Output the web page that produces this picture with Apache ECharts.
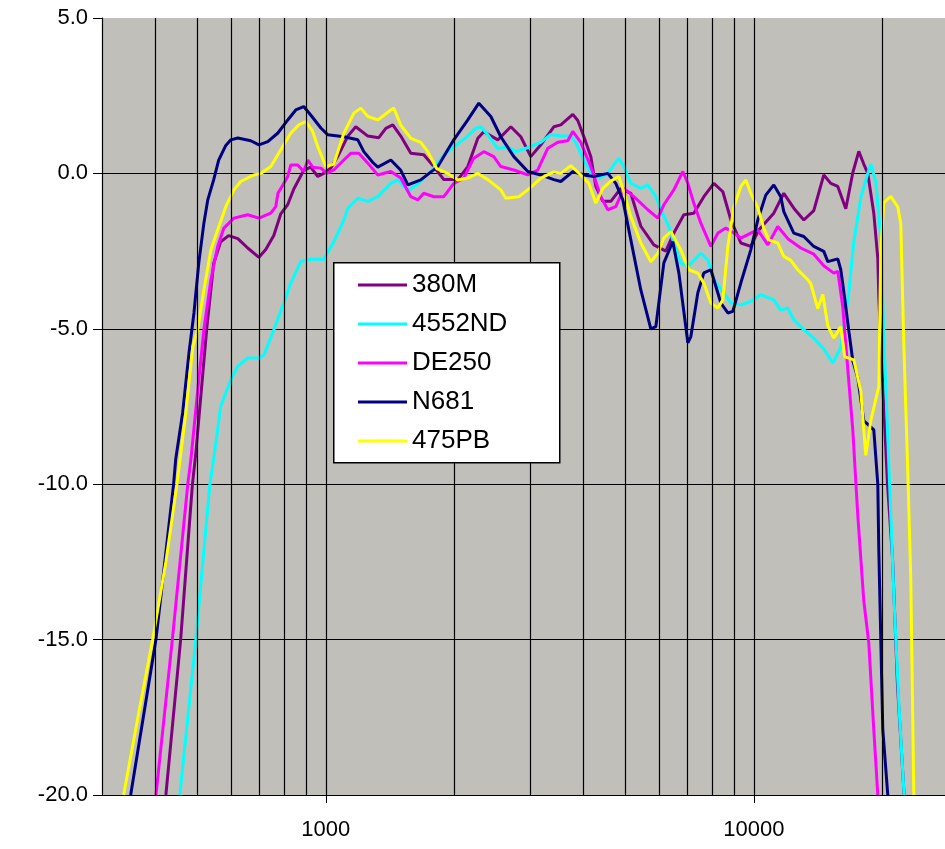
<!DOCTYPE html>
<html><head><meta charset="utf-8">
<script src="https://cdn.jsdelivr.net/npm/echarts@6/dist/echarts.min.js"></script>
<style>html,body{margin:0;padding:0;background:#fff}#c{width:945px;height:849px}</style>
</head><body><div id="c"></div>
<script>
// Frequency response curves: [frequency Hz, level dB]
const seriesNames = ['380M', '4552ND', 'DE250', 'N681', '475PB'];
const seriesColors = ['#800080', '#00FFFF', '#FF00FF', '#000080', '#FFFF00'];

const data380M = [[423,-20],[458,-15],[488,-10],[497,-9.0],[527,-5],[547,-2.9],[568,-2.2],[593,-2.0],[623,-2.1],[657,-2.4],[698,-2.7],[724,-2.45],[756,-2.0],[785,-1.3],[815,-1.0],[842,-0.5],[888,0.1],[922,0.2],[958,-0.1],[989,0],[1027,0.17],[1067,0.55],[1126,1.2],[1175,1.5],[1254,1.2],[1330,1.15],[1381,1.45],[1434,1.56],[1497,1.2],[1580,0.65],[1694,0.6],[1788,0.22],[1887,-0.2],[2035,-0.2],[2147,0.22],[2266,1.13],[2340,1.34],[2523,1.08],[2706,1.5],[2855,1.18],[3013,0.54],[3180,0.92],[3410,1.5],[3541,1.56],[3777,1.9],[3880,1.7],[4029,1.1],[4161,0.54],[4275,-0.42],[4439,-0.9],[4634,-0.9],[4890,-0.48],[5161,-0.64],[5446,-1.7],[5840,-2.3],[6230,-2.5],[6504,-1.92],[6864,-1.33],[7244,-1.28],[7644,-0.75],[8067,-0.32],[8467,-0.59],[8840,-1.5],[9329,-2.24],[9840,-2.35],[10273,-1.82],[11137,-1.28],[11752,-0.64],[12402,-1.12],[13088,-1.5],[13810,-1.2],[14574,-0.05],[15133,-0.32],[15714,-0.42],[16405,-1.14],[17034,0.02],[17593,0.71],[18072,0.3],[18466,0],[19072,-1.28],[19487,-2.73],[19592,-3.96],[19804,-5.48],[20530,-10],[21090,-12.36],[21670,-16.5],[22450,-20]];

const data4552ND = [[456,-20],[497,-15],[536,-10],[547,-9.2],[568,-7.5],[600,-6.64],[623,-6.2],[657,-5.94],[698,-5.94],[717,-5.84],[756,-5.03],[798,-4.17],[828,-3.53],[874,-2.84],[922,-2.76],[989,-2.76],[1044,-2.2],[1102,-1.5],[1126,-1.12],[1188,-0.8],[1254,-0.9],[1323,-0.75],[1419,-0.32],[1473,-0.21],[1497,-0.3],[1555,-0.56],[1641,-0.34],[1769,0.11],[1907,0.66],[2013,0.9],[2124,1.15],[2241,1.45],[2302,1.5],[2391,1.24],[2523,0.8],[2662,0.85],[2780,0.7],[2997,0.85],[3180,1.0],[3355,1.25],[3541,1.2],[3737,1.2],[3838,1.0],[4007,0.43],[4161,0],[4344,-0.15],[4560,0],[4838,0.49],[4970,0.22],[5161,-0.32],[5446,-0.48],[5655,-0.37],[5904,-0.75],[6065,-1.17],[6332,-1.71],[6504,-2.24],[6754,-2.89],[7014,-3.0],[7522,-2.57],[7811,-2.78],[8067,-3.42],[8513,-3.85],[8840,-4.17],[9329,-4.23],[9840,-4.12],[10384,-3.9],[11137,-4.07],[11564,-4.4],[12008,-4.33],[12402,-4.71],[13088,-5.03],[13810,-5.3],[14574,-5.65],[15297,-6.1],[15969,-5.6],[16672,-3.83],[17126,-2.2],[17783,-0.78],[18466,0],[18766,0.3],[19278,-0.28],[19804,-2.1],[20160,-5.48],[20710,-9.6],[21270,-13.75],[21850,-17.2],[22450,-20]];

const dataDE250 = [[401,-20],[438,-15],[476,-10],[484,-9.2],[505,-6.64],[519,-5.03],[539,-3.42],[559,-2.35],[578,-1.76],[610,-1.44],[657,-1.33],[698,-1.44],[744,-1.28],[764,-1.07],[773,-0.64],[794,-0.37],[815,-0.1],[828,0.27],[860,0.27],[888,0.06],[908,0.43],[932,0.2],[974,0.17],[1005,0],[1044,0.11],[1102,0.43],[1144,0.65],[1194,0.65],[1254,0.33],[1323,-0.05],[1419,0.06],[1497,-0.15],[1580,-0.75],[1641,-0.85],[1694,-0.64],[1788,-0.75],[1887,-0.75],[1991,-0.32],[2101,-0.15],[2217,0.49],[2340,0.7],[2469,0.54],[2564,0.22],[2750,0.11],[2965,-0.05],[3129,0.11],[3302,0.81],[3484,1.0],[3677,1.05],[3777,1.35],[3943,1.0],[4161,0.22],[4391,-0.75],[4560,-1.17],[4760,-1.07],[4970,-0.48],[5245,-0.75],[5655,-1.17],[5968,-1.44],[6164,-1.01],[6504,-0.53],[6827,0.06],[7014,-0.32],[7244,-0.96],[7522,-1.6],[7938,-2.35],[8243,-1.92],[8605,-1.76],[8984,-1.92],[9329,-2.08],[9840,-1.92],[10218,-1.82],[10783,-2.3],[11379,-1.71],[12008,-2.1],[12878,-2.4],[13810,-2.6],[14574,-2.97],[15379,-3.21],[15714,-3.15],[16142,-4.3],[16582,-6.3],[17034,-8.25],[17498,-11],[18072,-13.75],[18565,-15.1],[19072,-17.9],[19487,-20]];

const dataN681 = [[350,-20],[401,-15],[441,-10],[446,-9.2],[463,-7.7],[479,-5.78],[492,-4.49],[505,-2.88],[519,-1.6],[530,-0.85],[547,-0.21],[562,0.43],[584,0.9],[600,1.08],[623,1.14],[643,1.1],[668,1.05],[698,0.92],[732,1.02],[773,1.3],[815,1.72],[851,2.04],[888,2.15],[922,1.88],[974,1.46],[1011,1.24],[1102,1.18],[1188,1.08],[1227,0.7],[1288,0.35],[1323,0.2],[1419,0.43],[1497,0.1],[1555,-0.37],[1667,-0.21],[1827,0.22],[1991,1.08],[2147,1.72],[2278,2.26],[2430,1.83],[2564,1.18],[2750,0.54],[2965,0.06],[3180,-0.05],[3410,-0.2],[3541,-0.26],[3777,0.06],[4007,-0.05],[4229,-0.1],[4560,0],[4760,-0.32],[4943,-0.85],[5161,-2.14],[5446,-3.75],[5747,-5.0],[5904,-4.93],[6164,-2.88],[6469,-2.19],[6682,-3.2],[7014,-5.45],[7128,-5.25],[7401,-3.84],[7644,-3.2],[7938,-3.1],[8377,-4.17],[8698,-4.49],[8935,-4.44],[9329,-3.52],[9840,-2.46],[10218,-1.5],[10667,-0.7],[11137,-0.37],[11564,-0.75],[11752,-1.23],[12402,-1.92],[13088,-2.03],[13810,-2.35],[14574,-2.51],[14891,-2.84],[15714,-2.75],[15969,-3.1],[16229,-3.8],[16672,-5.06],[17034,-6.03],[17498,-6.58],[18072,-7.96],[18565,-8.1],[19072,-8.25],[19487,-10.0],[19592,-12.1],[19804,-15],[20019,-17.9],[20564,-20]];

const data475PB = [[337,-20],[364,-17.5],[394,-15],[423,-12.5],[449,-10],[471,-7.7],[489,-5.57],[502,-5.03],[519,-3.75],[539,-2.46],[559,-1.82],[584,-1.07],[610,-0.53],[633,-0.26],[679,-0.05],[705,0],[744,0.22],[785,0.76],[828,1.29],[865,1.56],[898,1.67],[932,1.35],[958,0.86],[1000,0.22],[1044,0.3],[1102,1.29],[1163,1.94],[1207,2.1],[1254,1.83],[1323,1.72],[1419,2.04],[1442,2.1],[1497,1.55],[1580,1.13],[1667,1.0],[1731,0.7],[1817,0.15],[1928,0],[2035,-0.21],[2147,-0.15],[2266,0],[2391,-0.2],[2564,-0.53],[2634,-0.8],[2825,-0.75],[3013,-0.45],[3180,-0.15],[3410,0.05],[3541,0],[3737,0.25],[3943,-0.05],[4117,-0.32],[4275,-0.96],[4439,-0.48],[4634,-0.25],[4838,-0.1],[4970,-0.59],[5161,-1.39],[5446,-2.24],[5747,-2.84],[5968,-2.57],[6164,-2.08],[6400,-1.87],[6754,-2.46],[7051,-3.1],[7401,-3.21],[7644,-3.53],[7938,-4.17],[8243,-4.33],[8467,-4.07],[8698,-2.35],[8984,-1.07],[9329,-0.42],[9583,-0.21],[9840,-0.64],[10218,-1.1],[10553,-1.76],[10841,-2.14],[11379,-2.24],[11752,-2.67],[12204,-2.8],[12672,-3.1],[13373,-3.42],[13591,-3.55],[14111,-4.35],[14496,-3.9],[14891,-4.9],[15379,-5.3],[15969,-4.93],[16317,-5.9],[17126,-6.0],[17783,-7.0],[18268,-9.07],[18766,-7.96],[19592,-6.86],[19804,-2.5],[20127,-0.94],[20899,-0.74],[21701,-1.08],[22054,-1.62],[22413,-5.48],[22900,-9.6],[23273,-13.06],[23652,-20]];

const seriesData = [data380M, data4552ND, dataDE250, dataN681, data475PB];

// Axis settings
const xMin = 300, xMax = 27975;
const yMin = -20, yMax = 5, yStep = 5;
const verticalGridFreqs = [400,500,600,700,800,900,1000,2000,3000,4000,5000,6000,7000,8000,9000,10000,20000];

const FONT = 'Liberation Sans, Arial, sans-serif';
const chart = echarts.init(document.getElementById('c'), null, {renderer: 'canvas'});

const series = [{
  name: '_grid', type: 'line', data: [], z: 1, silent: true,
  markLine: {
    silent: true, symbol: ['none', 'none'], animation: false,
    label: {show: false},
    lineStyle: {color: '#000', width: 1.2, type: 'solid'},
    data: verticalGridFreqs.map(f => ({xAxis: f}))
  }
}];
seriesNames.forEach((n, i) => {
  series.push({
    name: n, type: 'line', data: seriesData[i], showSymbol: false, symbol: 'none',
    z: 3, lineStyle: {color: seriesColors[i], width: 3}, itemStyle: {color: seriesColors[i]},
    clip: true
  });
});

chart.setOption({
  animation: false,
  backgroundColor: '#fff',
  grid: {left: 102, top: 18, right: 0, bottom: 54, show: true, backgroundColor: '#c0bfba', borderWidth: 0},
  xAxis: {
    type: 'log', logBase: 10, min: xMin, max: xMax,
    axisLine: {show: true, onZero: false, lineStyle: {color: '#000', width: 1.2}},
    axisTick: {show: true, length: 8, lineStyle: {color: '#000'}},
    axisLabel: {show: true, showMinLabel: false, showMaxLabel: false, margin: 24, color: '#000', fontFamily: FONT, fontSize: 22, formatter: v => String(Math.round(v))},
    splitLine: {show: false}, minorTick: {show: false}, minorSplitLine: {show: false}
  },
  yAxis: {
    type: 'value', min: yMin, max: yMax, interval: yStep,
    axisLine: {show: true, onZero: false, lineStyle: {color: '#000', width: 1.2}},
    axisTick: {show: true, length: 9, lineStyle: {color: '#000'}},
    axisLabel: {margin: 14, color: '#000', fontFamily: FONT, fontSize: 22, formatter: v => v.toFixed(1)},
    splitLine: {show: true, showMaxLine: false, showMinLine: false, lineStyle: {color: '#000', width: 1.2}}
  },
  legend: {
    data: seriesNames, orient: 'vertical', left: 358, top: 272, padding: 0,
    icon: 'rect', itemWidth: 49, itemHeight: 3, itemGap: 13, itemTextGap: 7,
    textStyle: {color: '#000', fontFamily: FONT, fontSize: 26},
    selectedMode: false, z: 20
  },
  graphic: [{
    type: 'rect', z: 15, left: 333, top: 262,
    shape: {width: 226, height: 200},
    style: {fill: '#fff', stroke: '#000', lineWidth: 1.5}
  }],
  series: series
});
</script></body></html>
